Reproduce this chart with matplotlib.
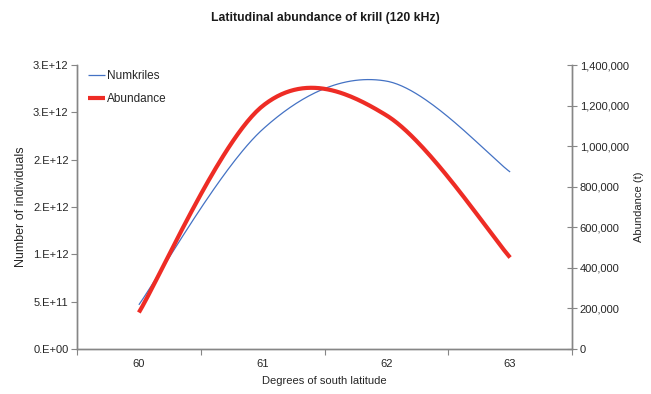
"""
Latitudinal abundance of krill at 120 kHz, two axes with smoothed lines.
"""

import matplotlib
matplotlib.use("Agg")
import matplotlib.pyplot as plt
from matplotlib.ticker import FixedLocator, NullFormatter
import numpy as np

latitudes = [60, 61, 62, 63]
num_krill = [4.67e11, 2.32e12, 2.83e12, 1.87e12]
abundance_t = [180000, 1198000, 1152000, 451000]

left_ticks = [0, 5e11, 1e12, 1.5e12, 2e12, 2.5e12, 3e12]
left_tick_labels = ["0.E+00", "5.E+11", "1.E+12", "2.E+12", "2.E+12", "3.E+12", "3.E+12"]
right_ticks = [0, 200000, 400000, 600000, 800000, 1000000, 1200000, 1400000]

FONT = ["Liberation Sans", "DejaVu Sans"]
AXIS_GREY = "#868686"
TEXT_COLOR = "#262626"


def smooth(xs, ys, steps=60):
    """Spreadsheet-style smoothed line: cubic Bezier with Catmull-Rom handles."""
    pts = np.column_stack([xs, ys]).astype(float)
    n = len(pts)
    out = [pts[0]]
    t = np.linspace(0, 1, steps)[1:, None]
    for i in range(n - 1):
        p0 = pts[i - 1] if i > 0 else pts[i]
        p1, p2 = pts[i], pts[i + 1]
        p3 = pts[i + 2] if i + 2 < n else pts[i + 1]
        c1 = p1 + (p2 - p0) / 6.0
        c2 = p2 - (p3 - p1) / 6.0
        seg = ((1 - t) ** 3) * p1 + 3 * ((1 - t) ** 2) * t * c1 \
            + 3 * (1 - t) * t ** 2 * c2 + t ** 3 * p2
        out.extend(seg)
    out = np.array(out)
    return out[:, 0], out[:, 1]


fig = plt.figure(figsize=(6.51, 3.94), dpi=100)
ax = fig.add_axes([77 / 651, 45 / 394, 495 / 651, 284 / 394])
ax2 = ax.twinx()

bx, by = smooth(latitudes, num_krill)
ax.plot(bx, by, color="#4472C4", lw=0.9, label="Numkriles", solid_capstyle="butt")
rx, ry = smooth(latitudes, abundance_t)
ax2.plot(rx, ry, color="#EE2C25", lw=3.0, label="Abundance", solid_capstyle="butt")

ax.set_xlim(59.5, 63.5)
ax.set_ylim(0, 3e12)
ax2.set_ylim(0, 1400000)

# category axis: tick marks sit between categories, labels at the centres
ax.xaxis.set_major_locator(FixedLocator(np.arange(59.5, 63.6, 1.0)))
ax.xaxis.set_major_formatter(NullFormatter())
ax.xaxis.set_minor_locator(FixedLocator(latitudes))
ax.set_xticklabels([str(v) for v in latitudes], minor=True)
ax.tick_params(axis="x", which="major", length=4, width=0.8, color=AXIS_GREY, direction="out")
ax.tick_params(axis="x", which="minor", length=0, pad=7, labelsize=8, labelcolor=TEXT_COLOR)

ax.set_yticks(left_ticks)
ax.set_yticklabels(left_tick_labels)
ax.tick_params(axis="y", length=4, width=0.8, color=AXIS_GREY, labelsize=8,
               labelcolor=TEXT_COLOR, pad=2)

ax2.set_yticks(right_ticks)
ax2.set_yticklabels([f"{v:,}" for v in right_ticks])
ax2.tick_params(axis="y", length=7, width=0.8, color=AXIS_GREY, direction="inout",
                labelsize=8, labelcolor=TEXT_COLOR, pad=2)

for a in (ax, ax2):
    a.spines["top"].set_visible(False)
    for side in ("left", "right", "bottom"):
        a.spines[side].set_color(AXIS_GREY)
        a.spines[side].set_linewidth(1.0)
    for lbl in a.get_xticklabels(minor=True) + a.get_yticklabels():
        lbl.set_family(FONT)

ax.set_xlabel("Degrees of south latitude", fontsize=8, color=TEXT_COLOR, family=FONT, labelpad=5)
ax.set_ylabel("Number of individuals", fontsize=9, color=TEXT_COLOR, family=FONT, labelpad=4)
ax2.set_ylabel("Abundance (t)", fontsize=8, color=TEXT_COLOR, family=FONT, labelpad=4)

fig.text(0.5, 1 - 18 / 394, "Latitudinal abundance of krill (120 kHz)", ha="center", va="center",
         fontsize=8.8, fontweight="bold", color="#1a1a1a", family=FONT)

handles = ax.get_lines() + ax2.get_lines()
leg = ax.legend(handles, [h.get_label() for h in handles], loc="upper left",
                bbox_to_anchor=(0.0, 1.02), frameon=False, handlelength=1.5,
                handletextpad=0.15, labelspacing=0.95, prop={"family": FONT, "size": 8.5})
for t in leg.get_texts():
    t.set_color(TEXT_COLOR)

fig.savefig("out.png", dpi=100, facecolor="white")
